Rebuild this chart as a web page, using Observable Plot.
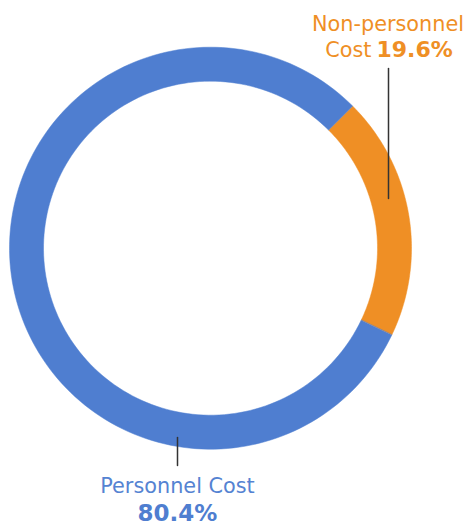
<!DOCTYPE html>
<html>
<head>
<meta charset="utf-8">
<script src="https://cdn.jsdelivr.net/npm/d3@7"></script>
<script src="https://cdn.jsdelivr.net/npm/@observablehq/plot@0.6"></script>
<style>
  html, body { margin: 0; padding: 0; background: #fff; }
</style>
</head>
<body>
<div id="chart"></div>
<script>
// ---- Data ----
const categories = ["Personnel Cost", "Non-personnel Cost"];
const shares = [80.4, 19.6];
const shareLabels = ["80.4%", "19.6%"];

// ---- Styles / layout ----
const colors = {"Personnel Cost": "#4f7ed0", "Non-personnel Cost": "#ef8f25"};
const W = 471, H = 525;
const cx = 210, cy = 247.7, R = 201, r = 167;   // px
const startDeg = 45; // Non-personnel slice starts here (clockwise from top)

// px -> data units (radius 1, y up)
const ux = px => (px - cx) / R;
const uy = py => (cy - py) / R;

// Build arcs with d3.pie, starting with Non-personnel at 45°
const order = [1, 0];
const pie = d3.pie().sort(null).value(i => shares[i])
  .startAngle(startDeg * Math.PI / 180)
  .endAngle(startDeg * Math.PI / 180 + 2 * Math.PI);
const arcs = pie(order);
const ringPts = [];
for (const a of arcs) {
  const cat = categories[a.data];
  const n = 160;
  for (let k = 0; k <= n; k++) {
    const t = a.startAngle + (a.endAngle - a.startAngle) * k / n;
    ringPts.push({cat, x: Math.sin(t), y: Math.cos(t)});
  }
  for (let k = n; k >= 0; k--) {
    const t = a.startAngle + (a.endAngle - a.startAngle) * k / n;
    ringPts.push({cat, x: Math.sin(t) * r / R, y: Math.cos(t) * r / R});
  }
}

// Leader lines (px)
const leaders = [
  {x: 388, y1: 68, y2: 198},
  {x: 177, y1: 437, y2: 465}
];
const leaderPts = leaders.flatMap((l, i) => [
  {id: i, x: ux(l.x), y: uy(l.y1)},
  {id: i, x: ux(l.x), y: uy(l.y2)}
]);

const font = "'DejaVu Sans', sans-serif";

const chart = Plot.plot({
  width: W,
  height: H,
  margin: 0,
  style: {fontFamily: font, background: "#fff"},
  x: {domain: [ux(0), ux(W)], axis: null},
  y: {domain: [uy(H), uy(0)], axis: null},
  color: {domain: categories, range: categories.map(c => colors[c])},
  marks: [
    Plot.line(ringPts, {x: "x", y: "y", z: "cat", fill: d => colors[d.cat], stroke: d => colors[d.cat], strokeWidth: 0.5, curve: "linear-closed"}),
    Plot.line(leaderPts, {x: "x", y: "y", z: "id", stroke: "#333", strokeWidth: 1.5}),
    // Non-personnel label
    Plot.text(["Non-personnel"], {x: ux(387.5), y: uy(30), text: d => d, lineAnchor: "bottom", textAnchor: "middle", fill: colors[categories[1]], fontSize: 20.8}),
    Plot.text(["Cost"], {x: ux(371), y: uy(56.7), text: d => d, lineAnchor: "bottom", textAnchor: "end", fill: colors[categories[1]], fontSize: 20.8}),
    Plot.text([shareLabels[1]], {x: ux(376), y: uy(56.7), text: d => d, lineAnchor: "bottom", textAnchor: "start", fill: colors[categories[1]], fontSize: 22, fontWeight: "bold"}),
    // Personnel label
    Plot.text([categories[0]], {x: ux(177), y: uy(492.7), text: d => d, lineAnchor: "bottom", textAnchor: "middle", fill: "#5583d2", fontSize: 20.8}),
    Plot.text([shareLabels[0]], {x: ux(177), y: uy(520), text: d => d, lineAnchor: "bottom", textAnchor: "middle", fill: "#4f7ed0", fontSize: 23, fontWeight: "bold"})
  ]
});
document.getElementById("chart").appendChild(chart);
</script>
</body>
</html>
